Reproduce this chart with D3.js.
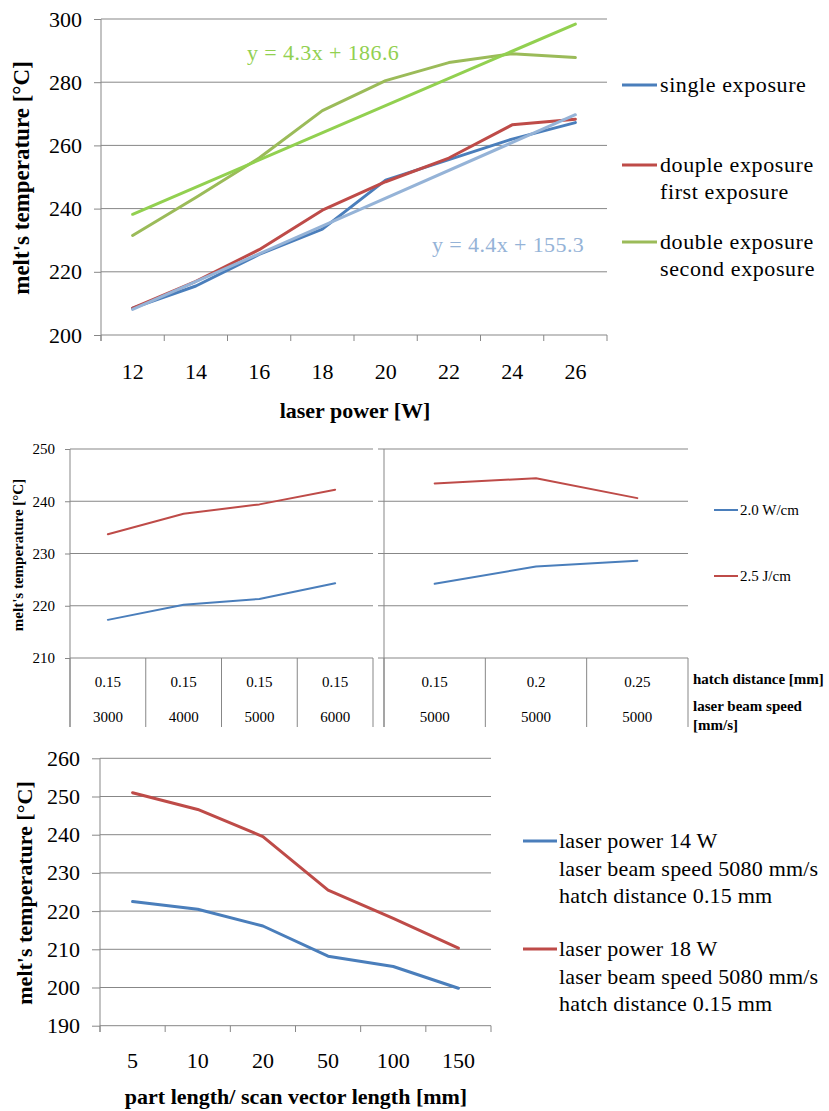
<!DOCTYPE html>
<html>
<head>
<meta charset="utf-8">
<script src="https://cdn.jsdelivr.net/npm/d3@7"></script>
<style>
  body { margin: 0; background: #fff; }
</style>
</head>
<body>
<div id="chart"></div>
<script>
// top chart: melt temperature vs laser power
const powerCats = [12, 14, 16, 18, 20, 22, 24, 26];
const singleExp = [208.5, 215.5, 225.5, 233.5, 249, 255.5, 262, 267.2];
const doubleFirst = [208.5, 217, 227, 239.5, 248.5, 256, 266.5, 268.3];
const doubleSecond = [231.5, 243.5, 256, 271, 280.5, 286.2, 289, 287.8];
const trendNames = ["y = 4.4x + 155.3", "y = 4.3x + 186.6"];
const trendSlopes = [4.4, 4.3];
const trendIntercepts = [155.3, 186.6];
const topTicks = [200, 220, 240, 260, 280, 300];

// middle chart: hatch distance / beam speed
const hatchLeft = ["0.15", "0.15", "0.15", "0.15"];
const speedLeft = ["3000", "4000", "5000", "6000"];
const blueLeft = [217.3, 220.2, 221.3, 224.3];
const redLeft = [233.7, 237.6, 239.4, 242.2];
const hatchRight = ["0.15", "0.2", "0.25"];
const speedRight = ["5000", "5000", "5000"];
const blueRight = [224.2, 227.5, 228.6];
const redRight = [243.4, 244.4, 240.6];
const midTicks = [210, 220, 230, 240, 250];

// bottom chart: part length
const lengthCats = ["5", "10", "20", "50", "100", "150"];
const power14 = [222.5, 220.5, 216.1, 208.2, 205.5, 199.8];
const power18 = [251, 246.6, 239.5, 225.5, 218.1, 210.3];
const lowTicks = [190, 200, 210, 220, 230, 240, 250, 260];

const BLUE = "#4a7ebb", RED = "#be4b48", OLIVE = "#9bbb59";
const TREND_GREEN = "#92d050", TREND_BLUE = "#95b3d7";
const GRID = "#878787";
const FONT = "'Liberation Serif', 'DejaVu Serif', serif";

const svg = d3.select("#chart").append("svg").attr("width", 829).attr("height", 1111);
svg.append("rect").attr("width", 829).attr("height", 1111).attr("fill", "#fff");

function grid(g, y, ticks, x0, x1) {
  g.selectAll(null).data(ticks).enter().append("line")
    .attr("x1", x0).attr("x2", x1)
    .attr("y1", d => y(d)).attr("y2", d => y(d))
    .attr("stroke", GRID).attr("stroke-width", 1);
}

function leftAxis(g, y, ticks, x0, tick, pad, size) {
  const a = g.append("g").attr("transform", `translate(${x0},0)`)
    .call(d3.axisLeft(y).tickValues(ticks).tickSize(tick).tickSizeOuter(0).tickPadding(pad));
  a.select(".domain").remove();
  a.selectAll("line").attr("stroke", GRID);
  a.selectAll("text").style("font-size", size + "px");
}

function catTicks(g, x, yTop, yBot) {
  const bounds = x.domain().map(d => x(d)).concat([x.range()[1]]);
  g.selectAll(null).data(bounds).enter().append("line")
    .attr("x1", d => d).attr("x2", d => d)
    .attr("y1", yTop).attr("y2", yBot)
    .attr("stroke", GRID).attr("stroke-width", 1);
}

function series(g, x, y, cats, vals, color, w) {
  g.append("path").datum(vals)
    .attr("fill", "none").attr("stroke", color).attr("stroke-width", w)
    .attr("stroke-linejoin", "round").attr("stroke-linecap", "round")
    .attr("d", d3.line().x((d, i) => x(cats[i]) + x.bandwidth() / 2).y(d => y(d)));
}

// ---------- top chart ----------
{
  const g = svg.append("g");
  const x = d3.scaleBand().domain(powerCats).range([101, 607]);
  const y = d3.scaleLinear().domain([200, 300]).range([335, 19]);

  grid(g, y, topTicks, 101, 607);
  g.append("line").attr("x1", 101).attr("x2", 101).attr("y1", y(300)).attr("y2", 341).attr("stroke", GRID);
  leftAxis(g, y, topTicks, 101, 7, 12, 22);
  catTicks(g, x, 335, 341);

  const xa = g.append("g").attr("transform", "translate(0,335)")
    .call(d3.axisBottom(x).tickSize(0).tickPadding(28));
  xa.select(".domain").remove();
  xa.selectAll("text").style("font-size", "22px");

  series(g, x, y, powerCats, singleExp, BLUE, 3);
  series(g, x, y, powerCats, doubleFirst, RED, 3);
  series(g, x, y, powerCats, doubleSecond, OLIVE, 3);

  const trendColors = [TREND_BLUE, TREND_GREEN];
  const ends = [powerCats[0], powerCats[powerCats.length - 1]];
  trendSlopes.forEach((s, k) => {
    g.append("path").datum(ends)
      .attr("fill", "none").attr("stroke", trendColors[k]).attr("stroke-width", 3)
      .attr("stroke-linecap", "round")
      .attr("d", d3.line().x(c => x(c) + x.bandwidth() / 2).y(c => y(s * c + trendIntercepts[k])));
  });

  g.append("text").attr("x", 432).attr("y", 252).attr("fill", TREND_BLUE)
    .style("font-size", "22px").style("letter-spacing", "0.4px").text(trendNames[0]);
  g.append("text").attr("x", 247).attr("y", 60).attr("fill", TREND_GREEN)
    .style("font-size", "22px").style("letter-spacing", "0.4px").text(trendNames[1]);

  g.append("text").attr("transform", "translate(29,178) rotate(-90)").attr("text-anchor", "middle")
    .style("font-size", "23px").style("font-weight", "bold").text("melt's temperature [°C]");
  g.append("text").attr("x", 355).attr("y", 418).attr("text-anchor", "middle")
    .style("font-size", "22px").style("font-weight", "bold").text("laser power [W]");

  const legend = [
    { c: BLUE, y: 85, lines: ["single exposure"] },
    { c: RED, y: 165, lines: ["douple exposure", "first exposure"] },
    { c: OLIVE, y: 242, lines: ["double exposure", "second exposure"] }
  ];
  legend.forEach(l => {
    g.append("line").attr("x1", 622).attr("x2", 657).attr("y1", l.y).attr("y2", l.y)
      .attr("stroke", l.c).attr("stroke-width", 3);
    l.lines.forEach((t, i) => {
      g.append("text").attr("x", 660).attr("y", l.y + 7 + i * 27)
        .style("font-size", "22px").style("letter-spacing", "0.6px").text(t);
    });
  });
}

// ---------- middle chart ----------
{
  const g = svg.append("g");
  const y = d3.scaleLinear().domain([210, 250]).range([658, 449]);
  const panels = [
    { x0: 70, x1: 373, hatch: hatchLeft, speed: speedLeft, blue: blueLeft, red: redLeft },
    { x0: 384, x1: 688, hatch: hatchRight, speed: speedRight, blue: blueRight, red: redRight }
  ];
  panels.forEach((p, k) => {
    const cats = p.speed.map((s, i) => i);
    const x = d3.scaleBand().domain(cats).range([p.x0, p.x1]);
    grid(g, y, midTicks, p.x0, p.x1);
    g.append("line").attr("x1", p.x0).attr("x2", p.x0).attr("y1", y(250)).attr("y2", 727).attr("stroke", GRID);
    if (k === 0) {
      leftAxis(g, y, midTicks, p.x0, 5, 10, 15);
    } else {
      g.selectAll(null).data(midTicks).enter().append("line")
        .attr("x1", p.x0 - 6).attr("x2", p.x0).attr("y1", d => y(d)).attr("y2", d => y(d)).attr("stroke", GRID);
    }
    catTicks(g, x, 658, 727);
    g.selectAll(null).data(p.hatch).enter().append("text")
      .attr("x", (d, i) => x(i) + x.bandwidth() / 2).attr("y", 687).attr("text-anchor", "middle")
      .style("font-size", "15px").text(d => d);
    g.selectAll(null).data(p.speed).enter().append("text")
      .attr("x", (d, i) => x(i) + x.bandwidth() / 2).attr("y", 722).attr("text-anchor", "middle")
      .style("font-size", "15px").text(d => d);
    series(g, x, y, cats, p.blue, BLUE, 2);
    series(g, x, y, cats, p.red, RED, 2);
  });

  g.append("text").attr("transform", "translate(23,555) rotate(-90)").attr("text-anchor", "middle")
    .style("font-size", "15px").style("font-weight", "bold").text("melt's temperature [°C]");

  [[BLUE, 510, "2.0 W/cm"], [RED, 576, "2.5 J/cm"]].forEach(l => {
    g.append("line").attr("x1", 714).attr("x2", 738).attr("y1", l[1]).attr("y2", l[1])
      .attr("stroke", l[0]).attr("stroke-width", 2);
    g.append("text").attr("x", 740).attr("y", l[1] + 5).style("font-size", "15px").text(l[2]);
  });

  [["hatch distance [mm]", 684], ["laser beam speed", 711], ["[mm/s]", 730]].forEach(t => {
    g.append("text").attr("x", 693).attr("y", t[1]).style("font-size", "15px")
      .style("font-weight", "bold").text(t[0]);
  });
}

// ---------- bottom chart ----------
{
  const g = svg.append("g");
  const x = d3.scaleBand().domain(lengthCats).range([100, 491]);
  const y = d3.scaleLinear().domain([190, 260]).range([1025.7, 758.3]);

  grid(g, y, lowTicks, 100, 491);
  g.append("line").attr("x1", 100).attr("x2", 100).attr("y1", y(260)).attr("y2", 1032).attr("stroke", GRID);
  leftAxis(g, y, lowTicks, 100, 8, 12, 22);
  catTicks(g, x, 1025.7, 1032);

  const xa = g.append("g").attr("transform", "translate(0,1025.7)")
    .call(d3.axisBottom(x).tickSize(0).tickPadding(27));
  xa.select(".domain").remove();
  xa.selectAll("text").style("font-size", "22px");

  series(g, x, y, lengthCats, power14, BLUE, 3);
  series(g, x, y, lengthCats, power18, RED, 3);

  g.append("text").attr("transform", "translate(32,893) rotate(-90)").attr("text-anchor", "middle")
    .style("font-size", "22px").style("font-weight", "bold").text("melt's temperature [°C]");
  g.append("text").attr("x", 296).attr("y", 1104).attr("text-anchor", "middle")
    .style("font-size", "22px").style("font-weight", "bold").text("part length/ scan vector length [mm]");

  const legend = [
    { c: BLUE, y: 841, lines: ["laser power 14 W", "laser beam speed 5080 mm/s", "hatch distance 0.15 mm"] },
    { c: RED, y: 949, lines: ["laser power 18 W", "laser beam speed 5080 mm/s", "hatch distance 0.15 mm"] }
  ];
  legend.forEach(l => {
    g.append("line").attr("x1", 523).attr("x2", 557).attr("y1", l.y).attr("y2", l.y)
      .attr("stroke", l.c).attr("stroke-width", 3);
    l.lines.forEach((t, i) => {
      g.append("text").attr("x", 559).attr("y", l.y + 7 + i * 27.5)
        .style("font-size", "22px").style("letter-spacing", "0.2px").text(t);
    });
  });
}

// every label in the serif face used by the original
svg.selectAll("text").style("font-family", FONT).each(function () {
  const t = d3.select(this);
  if (!t.attr("fill")) t.attr("fill", "#000");
});
</script>
</body>
</html>
